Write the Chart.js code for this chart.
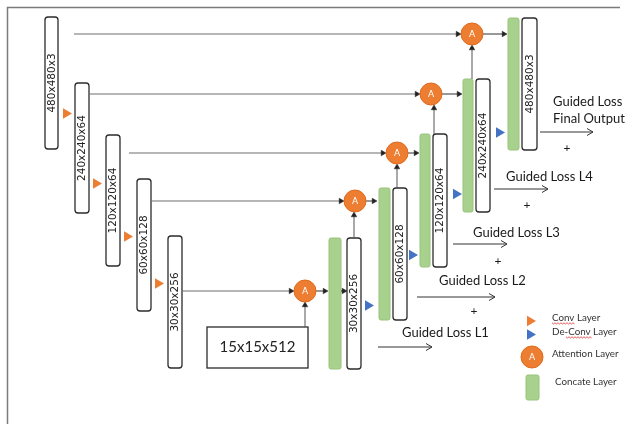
<!DOCTYPE html>
<html>
<head>
<meta charset="utf-8">
<script src="https://cdn.jsdelivr.net/npm/chart.js@4.4.0/dist/chart.umd.min.js"></script>
<style>
  html, body { margin: 0; padding: 0; background: #fff; }
  #wrap { width: 631px; height: 424px; position: relative; }
</style>
</head>
<body>
<div id="wrap"><canvas id="diagram"></canvas></div>
<script>
// ---- text content ----
const encoderLabels = ['480x480x3', '240x240x64', '120x120x64', '60x60x128', '30x30x256'];
const decoderLabels = ['30x30x256', '60x60x128', '120x120x64', '240x240x64', '480x480x3'];
const bottleneckLabel = '15x15x512';
const lossLabels = [['Guided Loss', 'Final Output'], ['Guided Loss L4'], ['Guided Loss L3'], ['Guided Loss L2'], ['Guided Loss L1']];
const legendLabels = ['Conv Layer', 'De-Conv Layer', 'Attention Layer', 'Concate Layer'];

// ---- layout, in diagram units (x 0..631, y 0..424 top-down) ----
const encLeft = [45, 75, 106, 137, 168];
const encRight = [58, 89, 120, 151, 182];
const encTop = [17, 83, 135, 179, 236];
const encBottom = [149, 213, 266, 311, 368];

const decLeft = [347, 393, 433, 476, 522];
const decRight = [361, 407, 447, 490, 537];
const decTop = [238, 188, 134, 79, 18];
const decBottom = [369, 320, 267, 212, 150];

const catLeft = [329, 379, 420, 463, 508];
const catRight = [341, 390, 430, 473, 519];

const neck = [207, 327, 308, 368]; // left, top, right, bottom

const attnX = [305, 355, 397, 431, 472];
const attnY = [291, 201, 153, 94, 34];

const convX = [66, 96, 127, 158];
const convY = [113.5, 183.5, 236.5, 283.5];
const deconvX = [368, 412, 456, 499];
const deconvY = [305.5, 255, 194, 132.5];

// skip connections: [x start, x tip, y]
const skipLines = [[74, 461, 34], [89, 420, 94], [129, 386, 153], [151, 344, 201], [182, 294, 291]];
// short arrows to the right: [x start, x tip, y]
const rightArrows = [[316, 328, 291], [341, 347, 291], [366, 377, 201], [408, 419, 153], [442, 462, 94], [483, 507, 34]];
// arrows upward: [x, y start, y tip]
const upArrows = [[305, 327, 302], [354, 238, 212], [397, 188, 164], [434, 134, 105], [472, 79, 45]];
// loss arrows: [x start, x end, y]
const lossArrows = [[540, 593, 132], [494, 548, 189], [453, 507, 244], [417, 495, 297], [378, 432, 347]];
const lossTextX = [553, 506, 473, 439, 402];
const lossTextY = [102, 177, 233, 281, 333];
const plusX = [567, 527, 498, 474];
const plusY = [148, 205, 261, 311];

const ORANGE = '#ED7D31';
const BLUE = '#4472C4';
const GREEN = '#A9D18E';
const HEAD = 3.2;

function segment(points, color, width, lastRotation) {
  return {
    type: 'line',
    data: points,
    borderColor: color,
    borderWidth: width,
    pointRadius: lastRotation === null ? 0 : [0, HEAD],
    pointStyle: 'triangle',
    rotation: lastRotation === null ? 0 : lastRotation,
    pointBackgroundColor: '#222',
    pointBorderColor: '#222',
    pointBorderWidth: 0.5,
    clip: false,
    order: 2
  };
}

const datasets = [];
skipLines.forEach(([a, b, yy]) => datasets.push(segment([{x: a, y: yy}, {x: b - HEAD, y: yy}], '#6f6f6f', 1.2, 90)));
rightArrows.forEach(([a, b, yy]) => datasets.push(segment([{x: a, y: yy}, {x: b - HEAD, y: yy}], '#333', 1, 90)));
upArrows.forEach(([xx, a, b]) => datasets.push(segment([{x: xx, y: a}, {x: xx, y: b + HEAD}], '#555', 1, 0)));
lossArrows.forEach(([a, b, yy]) => datasets.push(segment([{x: a, y: yy}, {x: b, y: yy}], '#333', 1, null)));

datasets.push({
  type: 'scatter',
  data: attnX.map((v, i) => ({x: v, y: attnY[i]})).concat([{x: 532, y: 357}]),
  pointRadius: 11, pointHoverRadius: 11,
  pointBackgroundColor: ORANGE, pointBorderColor: '#DE6A1C', pointBorderWidth: 1,
  clip: false, order: 1
});
datasets.push({
  type: 'scatter',
  data: convX.map((v, i) => ({x: v, y: convY[i]})).concat([{x: 530, y: 321}]),
  pointStyle: 'triangle', rotation: 90, pointRadius: 6, pointHoverRadius: 6,
  pointBackgroundColor: ORANGE, pointBorderWidth: 0,
  clip: false, order: 1
});
datasets.push({
  type: 'scatter',
  data: deconvX.map((v, i) => ({x: v, y: deconvY[i]})).concat([{x: 530, y: 334.5}]),
  pointStyle: 'triangle', rotation: 90, pointRadius: 6, pointHoverRadius: 6,
  pointBackgroundColor: BLUE, pointBorderWidth: 0,
  clip: false, order: 1
});

const diagramPlugin = {
  id: 'diagram',
  beforeDatasetsDraw(chart) {
    const {ctx, scales: {x, y}} = chart;
    const px = v => x.getPixelForValue(v);
    const py = v => y.getPixelForValue(v);
    ctx.save();

    // frame
    ctx.strokeStyle = '#7a7a7a';
    ctx.lineWidth = 1.5;
    ctx.beginPath();
    ctx.moveTo(px(620), py(7.5));
    ctx.lineTo(px(7.5), py(7.5));
    ctx.lineTo(px(7.5), py(424));
    ctx.stroke();

    // concat bars
    const green = (l, t, r, b) => {
      ctx.fillStyle = GREEN;
      ctx.strokeStyle = '#96C47A';
      ctx.lineWidth = 1;
      ctx.beginPath();
      ctx.roundRect(px(l), py(t), px(r) - px(l), py(b) - py(t), 2);
      ctx.fill();
      ctx.stroke();
    };
    catLeft.forEach((l, i) => green(l, decTop[i], catRight[i], decBottom[i]));
    green(526, 375, 539, 400);

    // feature map boxes
    const box = (l, t, r, b) => {
      ctx.fillStyle = '#fff';
      ctx.strokeStyle = '#2b2b2b';
      ctx.lineWidth = 1.3;
      ctx.beginPath();
      ctx.roundRect(px(l), py(t), px(r) - px(l), py(b) - py(t), 3);
      ctx.fill();
      ctx.stroke();
    };
    encLeft.forEach((l, i) => box(l, encTop[i], encRight[i], encBottom[i]));
    decLeft.forEach((l, i) => box(l, decTop[i], decRight[i], decBottom[i]));

    // bottleneck
    ctx.fillStyle = '#fff';
    ctx.strokeStyle = '#2b2b2b';
    ctx.lineWidth = 1.3;
    ctx.fillRect(px(neck[0]), py(neck[1]), px(neck[2]) - px(neck[0]), py(neck[3]) - py(neck[1]));
    ctx.strokeRect(px(neck[0]), py(neck[1]), px(neck[2]) - px(neck[0]), py(neck[3]) - py(neck[1]));
    ctx.restore();
  },
  afterDatasetsDraw(chart) {
    const {ctx, scales: {x, y}} = chart;
    const px = v => x.getPixelForValue(v);
    const py = v => y.getPixelForValue(v);
    ctx.save();

    // rotated labels in boxes
    ctx.fillStyle = '#222';
    ctx.font = '10.5px "DejaVu Sans"';
    ctx.textAlign = 'center';
    ctx.textBaseline = 'middle';
    const vlabel = (txt, l, t, r, b) => {
      ctx.save();
      ctx.translate(px((l + r) / 2) + 0.5, py((t + b) / 2));
      ctx.rotate(-Math.PI / 2);
      ctx.fillText(txt, 0, 0);
      ctx.restore();
    };
    encoderLabels.forEach((s, i) => vlabel(s, encLeft[i], encTop[i], encRight[i], encBottom[i]));
    decoderLabels.forEach((s, i) => vlabel(s, decLeft[i], decTop[i], decRight[i], decBottom[i]));

    ctx.font = '15px Lato';
    ctx.fillStyle = '#222';
    ctx.fillText(bottleneckLabel, px((neck[0] + neck[2]) / 2), py((neck[1] + neck[3]) / 2));

    // attention letters
    ctx.fillStyle = '#fff';
    ctx.font = '9px "DejaVu Sans"';
    attnX.concat([532]).forEach((v, i) => ctx.fillText('A', px(v), py((attnY.concat([357]))[i]) + 0.5));

    // loss labels
    ctx.fillStyle = '#1a1a1a';
    ctx.font = '13px Lato';
    ctx.textAlign = 'left';
    lossLabels.forEach((lines, i) => {
      lines.forEach((s, j) => ctx.fillText(s, px(lossTextX[i]), py(lossTextY[i] + j * 17)));
    });
    ctx.textAlign = 'center';
    ctx.font = '12px Lato';
    plusX.forEach((v, i) => ctx.fillText('+', px(v), py(plusY[i])));

    // open arrow heads on loss arrows
    ctx.strokeStyle = '#333';
    ctx.lineWidth = 1;
    lossArrows.forEach(([a, b, yy]) => {
      ctx.beginPath();
      ctx.moveTo(px(b - 6), py(yy - 3.5));
      ctx.lineTo(px(b), py(yy));
      ctx.lineTo(px(b - 6), py(yy + 3.5));
      ctx.stroke();
    });

    // legend text
    ctx.textAlign = 'left';
    ctx.fillStyle = '#333';
    ctx.font = '9.8px Lato';
    const legendX = [552, 552, 552, 555];
    const legendY = [318, 332, 354, 382];
    legendLabels.forEach((s, i) => ctx.fillText(s, px(legendX[i]), py(legendY[i])));

    // spell-check squiggles
    ctx.strokeStyle = '#e03030';
    ctx.lineWidth = 0.8;
    const squiggle = (a, b, yy) => {
      ctx.beginPath();
      for (let xx = a, k = 0; xx <= b; xx += 1.5, k++) {
        const yv = py(yy + (k % 2 ? 1 : -0.2));
        k === 0 ? ctx.moveTo(px(xx), yv) : ctx.lineTo(px(xx), yv);
      }
      ctx.stroke();
    };
    squiggle(552, 575, 323);
    squiggle(566, 592, 337);
    ctx.restore();
  }
};

new Chart(document.getElementById('diagram'), {
  data: { datasets },
  options: {
    responsive: true,
    maintainAspectRatio: false,
    animation: false,
    events: [],
    layout: { padding: 0, autoPadding: false },
    scales: {
      x: { type: 'linear', min: 0, max: 631, display: false },
      y: { type: 'linear', min: 0, max: 424, reverse: true, display: false }
    },
    plugins: { legend: { display: false }, tooltip: { enabled: false } }
  },
  plugins: [diagramPlugin]
});
</script>
</body>
</html>
